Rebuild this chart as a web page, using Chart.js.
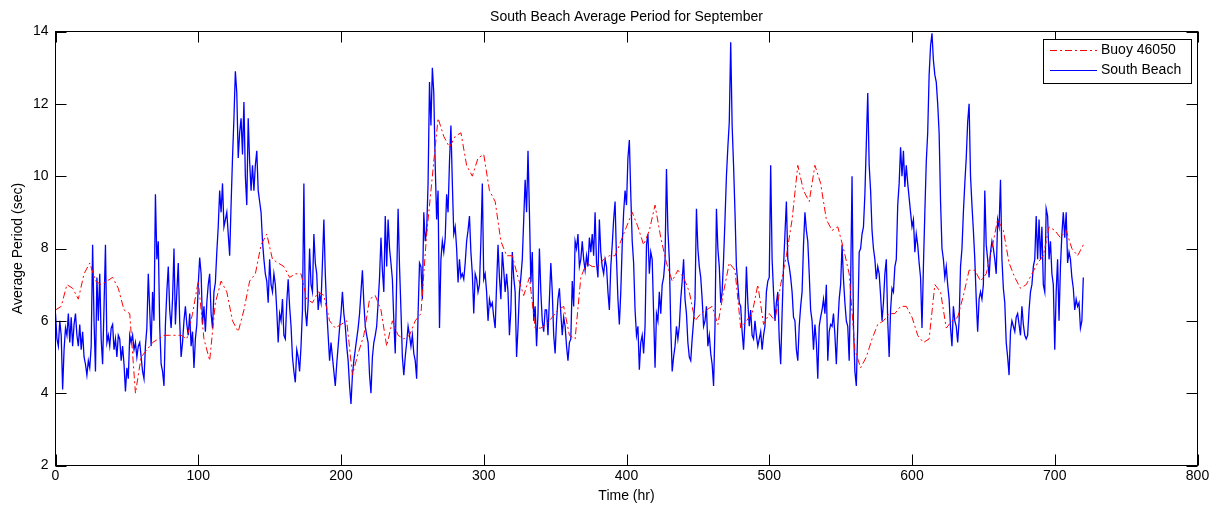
<!DOCTYPE html>
<html>
<head>
<meta charset="utf-8">
<title>South Beach Average Period for September</title>
<script src="https://cdn.jsdelivr.net/npm/chart.js@4.4.1/dist/chart.umd.min.js"></script>
<style>
  html, body { margin: 0; padding: 0; background: #fff; }
  #wrap { width: 1220px; height: 510px; }
</style>
</head>
<body>
<div id="wrap"><canvas id="myChart" width="1220" height="510"></canvas></div>
<script>
const titleText = "South Beach Average Period for September";
const xTitle = "Time (hr)";
const yTitle = "Average Period (sec)";
const xTicks = [0, 100, 200, 300, 400, 500, 600, 700, 800];
const yTicks = [2, 4, 6, 8, 10, 12, 14];

// Buoy 46050, one value every 4 hours (0..720)
const buoyStep = 4;
const buoyPeriod = [
  6.3, 6.4, 7.0, 6.9, 6.6, 7.3, 7.6, 7.1, 7.0, 7.1, 7.2, 6.9, 6.3, 6.2, 4.0, 5.0,
  5.2, 5.4, 5.5, 5.6, 5.6, 5.6, 5.6, 5.5, 6.2, 7.1, 5.5, 4.9, 6.5, 7.1, 6.8, 6.0,
  5.7, 6.3, 7.1, 7.3, 8.1, 8.4, 7.7, 7.6, 7.5, 7.2, 7.3, 7.3, 6.6, 6.5, 6.8, 6.7,
  6.0, 5.8, 5.9, 6.0, 4.5, 5.1, 5.6, 6.6, 6.7, 6.3, 5.3, 6.0, 5.6, 5.5, 5.6, 6.0,
  6.2, 8.4, 10.0, 11.6, 11.1, 10.8, 11.1, 11.2, 10.3, 10.0, 10.5, 10.6, 9.6, 9.3, 8.2, 7.8,
  7.8, 7.2, 6.7, 7.2, 5.8, 5.8, 5.9, 6.1, 6.3, 6.4, 5.6, 5.5, 7.2, 7.6, 7.5, 7.5,
  7.7, 7.8, 7.8, 8.2, 8.6, 9.0, 8.6, 8.1, 8.5, 9.2, 8.3, 7.6, 7.1, 7.4, 7.2, 6.8,
  6.0, 6.2, 6.3, 6.4, 5.9, 6.8, 7.6, 7.4, 5.8, 6.0, 6.2, 7.0, 5.9, 6.2, 6.0, 7.0,
  7.8, 8.8, 10.3, 9.6, 9.3, 10.3, 9.8, 8.8, 8.5, 8.6, 8.0, 7.3, 5.2, 4.7, 5.0, 5.5,
  5.9, 6.0, 6.2, 6.2, 6.4, 6.4, 6.1, 5.6, 5.4, 5.5, 7.0, 6.8, 5.8, 6.0, 6.1, 6.7,
  7.4, 7.4, 7.1, 7.3, 8.0, 8.8, 8.5, 7.6, 7.2, 6.9, 7.0, 7.3, 7.6, 7.8, 8.6, 8.5,
  8.3, 8.5, 8.0, 7.8, 8.1
];

// South Beach, hourly values (0..720), ten per row
const beachStep = 1;
const beachPeriod = [
  6.2, 5.5, 5.3, 6.0, 5.6, 4.1, 5.2, 5.8, 5.6, 6.2,
  5.4, 6.1, 5.3, 5.9, 6.2, 5.6, 5.3, 5.9, 5.2, 5.7,
  5.0, 4.8, 4.5, 4.9, 4.7, 5.3, 8.1, 6.0, 4.6, 7.2,
  6.0, 7.3, 5.5, 4.8, 6.4, 8.1, 5.4, 5.6, 5.3, 5.8,
  5.9, 5.2, 5.5, 5.0, 5.6, 5.5, 4.9, 5.3, 4.8, 4.05,
  4.7, 4.4, 5.6, 5.4, 5.6, 5.2, 5.4, 5.0, 5.3, 5.4,
  5.0, 4.6, 4.4, 5.3, 5.8, 7.3, 6.3, 5.3, 6.8, 6.0,
  9.5, 7.7, 8.2, 5.85, 4.8, 4.6, 4.2, 5.9, 6.8, 7.5,
  6.3, 5.8, 6.6, 8.0, 5.9, 6.8, 7.6, 6.0, 5.0, 5.4,
  6.0, 6.4, 5.9, 5.6, 6.2, 5.3, 5.7, 4.7, 5.5, 5.9,
  7.0, 7.75, 7.3, 5.9, 6.4, 5.7, 6.5, 7.0, 7.3, 6.2,
  5.8, 6.8, 7.06, 7.9, 8.6, 9.6, 9.0, 9.8, 8.6, 8.8,
  9.0, 8.4, 7.8, 9.2, 10.5, 11.6, 12.9, 12.3, 10.5, 11.2,
  11.6, 10.6, 12.05, 10.0, 9.2, 11.6, 10.4, 9.6, 10.3, 9.6,
  10.3, 10.7, 9.6, 9.3, 9.0, 8.2, 7.7, 7.3, 7.1, 6.5,
  7.7, 7.0, 6.8, 7.3, 7.0, 6.3, 5.4, 6.2, 6.0, 6.6,
  5.6, 5.5, 6.5, 7.15, 6.4, 5.85, 5.0, 4.6, 4.3, 5.2,
  5.0, 4.6, 5.3, 6.3, 9.8, 6.3, 5.85, 6.5, 8.0, 7.0,
  6.8, 8.4, 7.6, 7.3, 6.3, 6.7, 6.5, 7.6, 8.8, 7.3,
  6.3, 5.6, 4.9, 5.4, 5.0, 4.6, 4.2, 4.8, 5.3, 5.8,
  6.2, 6.8, 6.2, 5.85, 5.3, 4.9, 4.2, 3.7, 4.5, 4.9,
  5.2, 5.5, 5.8, 6.2, 6.8, 7.4, 6.5, 5.85, 5.6, 5.4,
  4.5, 4.0, 5.0, 5.4, 5.6, 5.85, 6.5, 7.2, 8.3, 7.4,
  6.8, 8.9, 7.5, 8.8, 8.0, 7.6, 7.15, 6.0, 5.1, 7.15,
  9.1, 7.5, 6.3, 5.0, 4.5, 5.0, 5.4, 5.85, 5.6, 5.3,
  5.6, 5.1, 4.9, 4.4, 6.2, 7.6, 7.5, 6.6, 9.0, 8.2,
  8.5, 9.8, 12.6, 11.4, 13.0, 12.3, 10.3, 8.8, 9.6, 5.8,
  7.7, 8.2, 7.9, 8.3, 9.5, 9.0, 10.4, 11.4, 9.8, 8.4,
  8.6, 8.0, 7.06, 7.7, 7.2, 7.3, 7.15, 7.6, 8.2, 8.5,
  8.9, 7.9, 7.3, 6.2, 7.3, 7.15, 6.8, 7.0, 8.2, 9.8,
  7.15, 7.3, 6.8, 6.0, 6.6, 6.4, 6.5, 6.1, 5.8, 7.0,
  8.1, 7.2, 6.6, 7.9, 7.4, 6.8, 7.3, 6.8, 5.6, 6.3,
  7.9, 7.2, 6.8, 5.0, 5.8, 6.8, 7.2, 7.7, 8.8, 9.9,
  9.0, 10.7, 9.0, 7.06, 7.9, 6.0, 6.4, 5.3, 6.2, 8.0,
  6.8, 6.0, 5.7, 6.3, 6.3, 5.6, 6.6, 7.6, 6.8, 5.6,
  5.1, 6.0, 6.6, 6.9, 6.2, 5.6, 6.1, 5.85, 5.3, 4.9,
  5.4, 5.5, 7.1, 6.4, 8.2, 8.0, 8.4, 7.5, 7.7, 8.2,
  7.7, 7.4, 7.8, 7.5, 8.3, 7.9, 8.4, 7.8, 9.0, 7.6,
  7.2, 8.8, 7.9, 7.5, 7.3, 7.7, 7.5, 6.8, 6.3, 7.5,
  8.1, 8.8, 9.3, 7.7, 6.6, 5.9, 6.8, 8.1, 9.0, 9.6,
  9.2, 10.5, 11.0, 9.5, 8.2, 7.6, 6.3, 5.6, 5.85, 4.65,
  5.4, 5.6, 5.1, 5.85, 8.1, 8.4, 7.3, 7.9, 7.7, 6.2,
  4.7, 6.2, 6.0, 6.8, 6.2, 7.0, 7.2, 7.7, 10.2, 8.5,
  7.7, 5.85, 4.6, 5.0, 5.3, 5.85, 5.5, 5.85, 6.6, 7.1,
  7.7, 6.6, 6.2, 5.4, 5.0, 4.9, 5.5, 6.0, 6.6, 9.1,
  8.0, 7.5, 7.2, 6.6, 5.85, 6.0, 6.4, 5.3, 5.6, 5.1,
  4.8, 4.2, 5.85, 9.1, 8.0, 7.5, 6.5, 6.8, 7.7, 8.8,
  10.0, 10.8, 11.5, 13.7, 11.4, 10.3, 9.0, 7.5, 7.0, 6.5,
  6.4, 5.7, 5.2, 6.0, 7.5, 6.5, 5.85, 6.3, 5.6, 5.5,
  6.0, 5.6, 5.3, 5.5, 5.7, 5.2, 5.6, 5.85, 6.8, 7.1,
  7.2, 10.3, 7.7, 6.8, 6.0, 6.5, 6.8, 5.5, 4.8, 6.2,
  7.5, 8.4, 9.3, 7.7, 7.5, 7.2, 6.8, 6.1, 6.0, 5.2,
  4.9, 5.85, 6.4, 6.8, 8.1, 9.0, 8.5, 8.2, 7.3, 6.3,
  6.0, 5.2, 5.9, 5.4, 4.4, 5.85, 6.1, 6.3, 6.6, 6.2,
  7.0, 4.9, 5.7, 5.9, 5.85, 6.2, 5.6, 4.8, 5.85, 6.6,
  7.0, 8.1, 7.15, 6.5, 6.0, 5.85, 4.9, 7.0, 10.0, 5.85,
  4.6, 4.2, 5.85, 7.9, 8.0, 8.4, 8.6, 9.5, 10.9, 12.3,
  10.3, 9.6, 8.5, 8.0, 7.7, 7.15, 7.5, 7.3, 6.7, 6.0,
  6.5, 7.3, 7.7, 6.0, 5.0, 6.3, 6.9, 6.8, 7.5, 7.7,
  9.2, 9.8, 10.8, 10.0, 10.7, 9.7, 10.3, 9.8, 9.4, 9.0,
  8.6, 8.8, 7.9, 8.4, 8.1, 7.6, 7.2, 5.8, 7.5, 9.0,
  10.4, 11.2, 12.8, 13.6, 13.95, 13.2, 12.8, 12.6, 12.0, 11.2,
  9.3, 8.0, 7.7, 7.2, 7.5, 7.0, 6.6, 5.8, 5.3, 6.4,
  6.0, 5.85, 5.4, 6.0, 7.5, 8.0, 9.0, 9.8, 10.5, 11.5,
  12.0, 10.0, 9.2, 8.5, 7.7, 6.6, 5.7, 6.6, 6.8, 6.6,
  7.0, 9.6, 8.1, 7.7, 7.2, 7.9, 8.2, 8.0, 7.7, 7.3,
  8.8, 8.6, 9.9, 7.7, 6.9, 6.5, 5.4, 5.0, 4.5, 5.7,
  6.0, 5.85, 5.7, 6.1, 6.2, 5.9, 5.6, 6.4, 5.9, 5.6,
  5.5, 5.6, 6.3, 6.8, 7.0, 7.5, 7.7, 8.9, 7.7, 8.8,
  7.7, 8.6, 7.0, 6.8, 9.1, 8.9, 7.7, 8.2, 7.3, 7.0,
  5.2, 6.8, 7.7, 6.0, 7.5, 8.4, 9.0, 8.3, 9.0, 7.6,
  7.9, 7.7, 7.2, 6.9, 6.3, 6.6, 6.4, 6.5, 5.8, 6.0,
  7.2
];

const fontFamily = "'Liberation Sans', Arial, Helvetica, sans-serif";
Chart.defaults.color = "#000";
Chart.defaults.font.family = fontFamily;
Chart.defaults.font.size = 14;

const toPoints = (values, step) => values.map((v, i) => ({ x: i * step, y: v }));

// MATLAB style box, inward ticks, title and legend
const matlabAxes = {
  id: "matlabAxes",
  afterDraw(chart) {
    const ctx = chart.ctx;
    const area = chart.chartArea;
    const xs = chart.scales.x;
    const ys = chart.scales.y;
    const tickLen = 11;

    ctx.save();
    ctx.strokeStyle = "#000";
    ctx.lineWidth = 1;
    ctx.setLineDash([]);
    ctx.strokeRect(area.left, area.top, area.right - area.left, area.bottom - area.top);

    ctx.beginPath();
    xTicks.forEach(v => {
      const px = Math.round(xs.getPixelForValue(v)) + 0.5;
      ctx.moveTo(px, area.bottom);
      ctx.lineTo(px, area.bottom - tickLen);
      ctx.moveTo(px, area.top);
      ctx.lineTo(px, area.top + tickLen);
    });
    yTicks.forEach(v => {
      const py = Math.round(ys.getPixelForValue(v)) + 0.5;
      ctx.moveTo(area.left, py);
      ctx.lineTo(area.left + tickLen, py);
      ctx.moveTo(area.right, py);
      ctx.lineTo(area.right - tickLen, py);
    });
    ctx.stroke();

    // title
    ctx.fillStyle = "#000";
    ctx.font = "14px " + fontFamily;
    ctx.textAlign = "center";
    ctx.textBaseline = "alphabetic";
    ctx.fillText(titleText, (area.left + area.right) / 2, 21);

    // legend box
    const lx = 1043.5, ly = 39.5, lw = 148, lh = 44;
    ctx.fillStyle = "#fff";
    ctx.fillRect(lx, ly, lw, lh);
    ctx.strokeRect(lx, ly, lw, lh);
    const rows = [50.5, 70.5];
    chart.data.datasets.forEach((ds, i) => {
      ctx.beginPath();
      ctx.strokeStyle = ds.borderColor;
      ctx.lineWidth = 1;
      ctx.setLineDash(ds.borderDash || []);
      ctx.moveTo(1050, rows[i]);
      ctx.lineTo(1097, rows[i]);
      ctx.stroke();
      ctx.setLineDash([]);
      ctx.fillStyle = "#000";
      ctx.textAlign = "left";
      ctx.textBaseline = "middle";
      ctx.fillText(ds.label, 1101, rows[i]);
    });
    ctx.restore();
  }
};

const ctx = document.getElementById("myChart").getContext("2d");
const myChart = new Chart(ctx, {
  type: "line",
  data: {
    datasets: [
      {
        label: "Buoy 46050",
        data: toPoints(buoyPeriod, buoyStep),
        borderColor: "#ff0000",
        borderWidth: 1,
        borderDash: [7, 3, 2, 3],
        pointRadius: 0,
        tension: 0
      },
      {
        label: "South Beach",
        data: toPoints(beachPeriod, beachStep),
        borderColor: "#0000ff",
        borderWidth: 1.3,
        pointRadius: 0,
        tension: 0
      }
    ]
  },
  options: {
    responsive: false,
    animation: false,
    devicePixelRatio: 1,
    layout: { padding: { top: 31.5, right: 22.5, left: 0, bottom: 0 } },
    plugins: {
      legend: { display: false },
      title: { display: false },
      tooltip: { enabled: false }
    },
    scales: {
      x: {
        type: "linear",
        min: 0,
        max: 800,
        afterBuildTicks: s => { s.ticks = xTicks.map(v => ({ value: v })); },
        afterFit: s => { s.height = 44.5; },
        grid: { display: false, drawTicks: false },
        border: { display: false },
        ticks: { padding: 2, maxRotation: 0, autoSkip: false },
        title: { display: true, text: xTitle, padding: { top: 0, bottom: 5 } }
      },
      y: {
        min: 2,
        max: 14,
        afterBuildTicks: s => { s.ticks = yTicks.map(v => ({ value: v })); },
        afterFit: s => { s.width = 55.5; },
        grid: { display: false, drawTicks: false },
        border: { display: false },
        ticks: { padding: 7, autoSkip: false },
        title: { display: true, text: yTitle, padding: { top: 10, bottom: 0 } }
      }
    }
  },
  plugins: [matlabAxes]
});
</script>
</body>
</html>
